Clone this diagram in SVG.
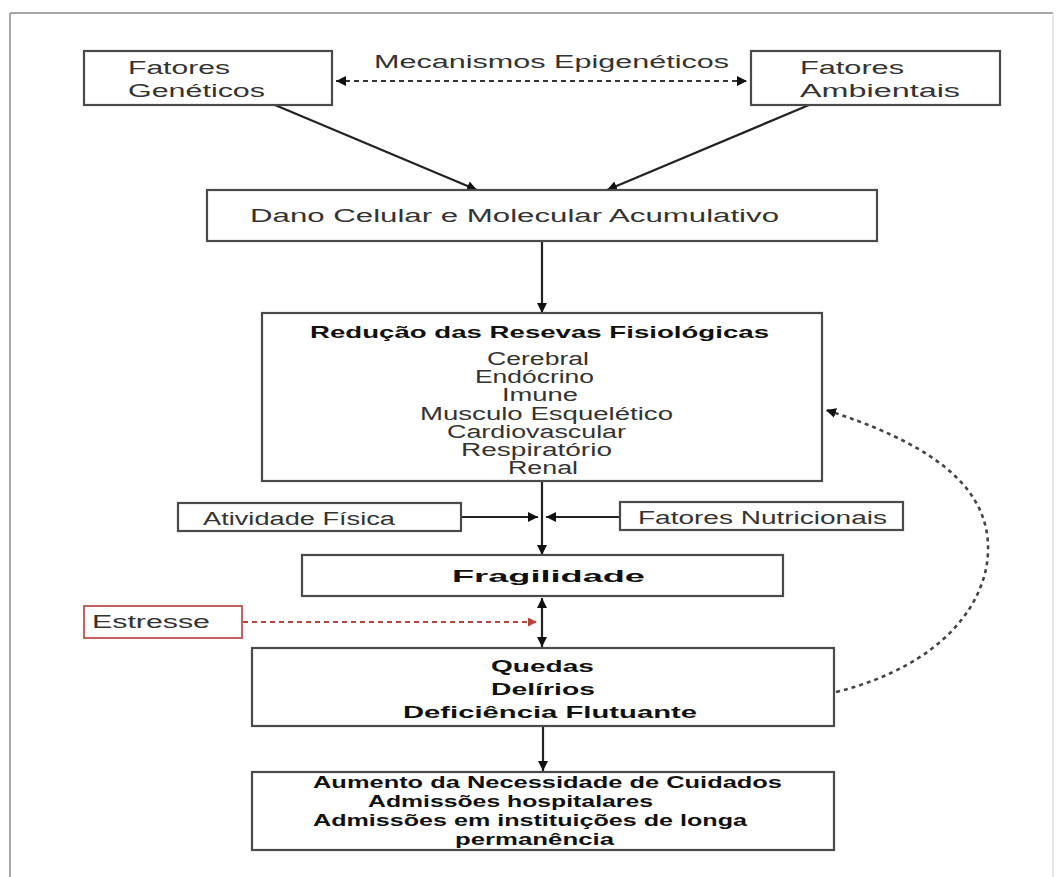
<svg xmlns="http://www.w3.org/2000/svg" width="1063" height="877" viewBox="0 0 1063 877">
<style>
.box{fill:#fff;stroke:#4a4a4a;stroke-width:2.2}
.t{font-family:"Liberation Sans","Open Sans",sans-serif;fill:#333;font-size:18px}
.b{font-family:"Liberation Sans","Open Sans",sans-serif;fill:#111;font-weight:bold;font-size:16.5px}
.ln{fill:none;stroke:#222;stroke-width:2.2}
.dash{fill:none;stroke:#333;stroke-width:2;stroke-dasharray:5 4}
.dot{fill:none;stroke:#444;stroke-width:2.6;stroke-dasharray:4 4}
.red{fill:none;stroke:#b5443f;stroke-width:1.8;stroke-dasharray:5 4}
</style>
<defs>
<marker id="ah" viewBox="0 0 10 10" refX="10" refY="5" markerWidth="10" markerHeight="10" markerUnits="userSpaceOnUse" orient="auto-start-reverse"><path d="M0,0 L10,5 L0,10 z" fill="#111"/></marker>
<marker id="ahr" viewBox="0 0 10 10" refX="10" refY="5" markerWidth="9" markerHeight="9" markerUnits="userSpaceOnUse" orient="auto"><path d="M0,0 L10,5 L0,10 z" fill="#b5443f"/></marker>
</defs>
<rect width="1063" height="877" fill="#fff"/>
<g id="frame">
<line x1="10" y1="13" x2="1053" y2="13" stroke="#8a8a8a" stroke-width="1.5"/>
<line x1="10" y1="13" x2="10" y2="877" stroke="#8a8a8a" stroke-width="1.5"/>
<line x1="1053" y1="13" x2="1053" y2="877" stroke="#dedede" stroke-width="1.5"/>
</g>
<g id="connectors">
<line class="dash" x1="336" y1="81" x2="747" y2="81" marker-start="url(#ah)" marker-end="url(#ah)"/>
<line class="ln" x1="275" y1="105" x2="477" y2="190" marker-end="url(#ah)"/>
<line class="ln" x1="809" y1="105" x2="607" y2="190" marker-end="url(#ah)"/>
<line class="ln" x1="542" y1="241" x2="542" y2="313" marker-end="url(#ah)"/>
<line class="ln" x1="542" y1="481" x2="542" y2="555" marker-end="url(#ah)"/>
<line class="ln" x1="461" y1="517" x2="538" y2="517" marker-end="url(#ah)"/>
<line class="ln" x1="620" y1="517" x2="546" y2="517" marker-end="url(#ah)"/>
<line class="ln" x1="542" y1="598" x2="542" y2="647" marker-start="url(#ah)" marker-end="url(#ah)"/>
<line class="red" x1="243" y1="622" x2="537" y2="622" marker-end="url(#ahr)"/>
<line class="ln" x1="543" y1="727" x2="543" y2="771" marker-end="url(#ah)"/>
<path class="dot" d="M836,692 C945,665 990,600 988,545 C986,480 920,440 826,410" marker-end="url(#ah)"/>
</g>
<g id="fatores-geneticos">
<rect class="box" x="84" y="51" width="248" height="54"/>
<text class="t" x="128" y="74" textLength="102" lengthAdjust="spacingAndGlyphs">Fatores</text>
<text class="t" x="128" y="97" textLength="137" lengthAdjust="spacingAndGlyphs">Genéticos</text>
</g>
<g id="mecanismos">
<text class="t" x="374" y="68" font-size="19" textLength="355" lengthAdjust="spacingAndGlyphs">Mecanismos Epigenéticos</text>
</g>
<g id="fatores-ambientais">
<rect class="box" x="751" y="51" width="249" height="54"/>
<text class="t" x="800" y="74" textLength="104" lengthAdjust="spacingAndGlyphs">Fatores</text>
<text class="t" x="800" y="97" textLength="160" lengthAdjust="spacingAndGlyphs">Ambientais</text>
</g>
<g id="dano">
<rect class="box" x="207" y="190" width="670" height="51"/>
<text class="t" x="250" y="222" textLength="529" lengthAdjust="spacingAndGlyphs">Dano Celular e Molecular Acumulativo</text>
</g>
<g id="reducao">
<rect class="box" x="262" y="313" width="560" height="168"/>
<text class="b" x="310" y="338" font-size="17" textLength="459" lengthAdjust="spacingAndGlyphs">Redução das Resevas Fisiológicas</text>
<g class="t" font-size="14">
<text x="487" y="365" textLength="102" lengthAdjust="spacingAndGlyphs">Cerebral</text>
<text x="475" y="383.2" textLength="119" lengthAdjust="spacingAndGlyphs">Endócrino</text>
<text x="502" y="401.4" textLength="76" lengthAdjust="spacingAndGlyphs">Imune</text>
<text x="420" y="419.6" textLength="253" lengthAdjust="spacingAndGlyphs">Musculo Esquelético</text>
<text x="447" y="437.8" textLength="179" lengthAdjust="spacingAndGlyphs">Cardiovascular</text>
<text x="461" y="456" textLength="151" lengthAdjust="spacingAndGlyphs">Respiratório</text>
<text x="508" y="474.2" textLength="70" lengthAdjust="spacingAndGlyphs">Renal</text>
</g>
</g>
<g id="atividade">
<rect class="box" x="178" y="503" width="283" height="28"/>
<text class="t" x="203" y="525" font-size="16" textLength="192" lengthAdjust="spacingAndGlyphs">Atividade Física</text>
</g>
<g id="nutricionais">
<rect class="box" x="620" y="502" width="283" height="28"/>
<text class="t" x="638" y="524" font-size="16" textLength="249" lengthAdjust="spacingAndGlyphs">Fatores Nutricionais</text>
</g>
<g id="fragilidade">
<rect class="box" x="302" y="555" width="481" height="41"/>
<text class="b" x="452" y="582" font-size="21" textLength="193" lengthAdjust="spacingAndGlyphs">Fragilidade</text>
</g>
<g id="estresse">
<rect x="84" y="606" width="158" height="32" fill="#fff" stroke="#c0504d" stroke-width="1.8"/>
<text class="t" x="92" y="628" font-size="19" textLength="118" lengthAdjust="spacingAndGlyphs">Estresse</text>
</g>
<g id="quedas">
<rect class="box" x="252" y="648" width="582" height="78"/>
<text class="b" x="491" y="672" textLength="103" lengthAdjust="spacingAndGlyphs">Quedas</text>
<text class="b" x="491" y="695" textLength="104" lengthAdjust="spacingAndGlyphs">Delírios</text>
<text class="b" x="403" y="718" textLength="294" lengthAdjust="spacingAndGlyphs">Deficiência Flutuante</text>
</g>
<g id="consequencias">
<rect class="box" x="252" y="772" width="582" height="78"/>
<text class="b" x="313" y="788" font-size="15" textLength="469" lengthAdjust="spacingAndGlyphs">Aumento da Necessidade de Cuidados</text>
<text class="b" x="368" y="807" font-size="15" textLength="285" lengthAdjust="spacingAndGlyphs">Admissões hospitalares</text>
<text class="b" x="313" y="826" font-size="15" textLength="434" lengthAdjust="spacingAndGlyphs">Admissões em instituições de longa</text>
<text class="b" x="455" y="845" font-size="15" textLength="159" lengthAdjust="spacingAndGlyphs">permanência</text>
</g>
</svg>
